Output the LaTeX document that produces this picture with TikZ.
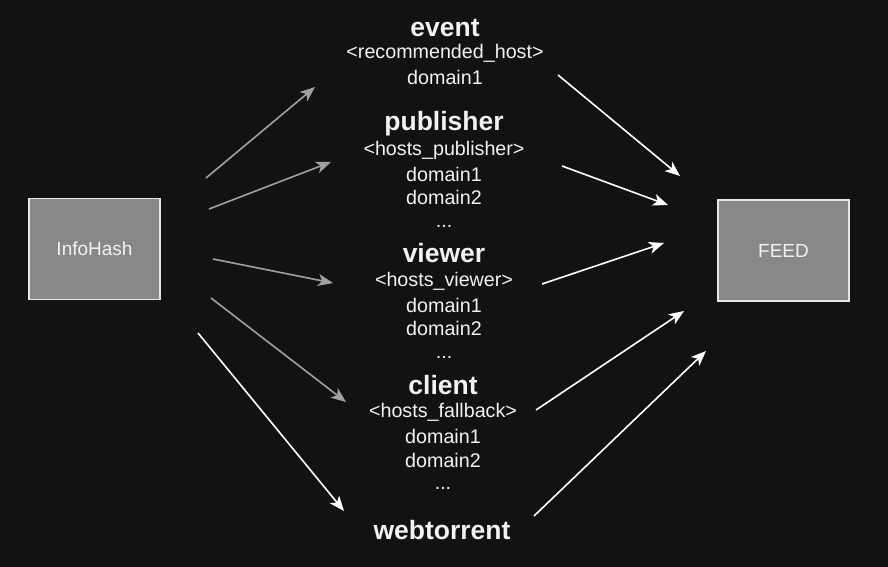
\documentclass[tikz,border=0pt]{standalone}
\usepackage{fontspec}
\setmainfont{Liberation Sans}
\usepackage{tikz}
\usetikzlibrary{arrows.meta}
\definecolor{bgcolor}{HTML}{121212}
\definecolor{boxcolor}{HTML}{888888}
\definecolor{edgecolor}{HTML}{E6E6E6}
\definecolor{greyline}{HTML}{A0A0A0}
\definecolor{textcolor}{HTML}{F2F2F2}

\begin{document}
\begin{tikzpicture}[
    x=1pt, y=-1pt,
    box/.style={rectangle, draw=edgecolor, line width=1.5pt, fill=boxcolor,
                minimum width=131pt, minimum height=101pt,
                text=textcolor, font=\fontsize{19}{22}\selectfont},
    title/.style={text=textcolor, inner sep=1pt,
                  font=\fontsize{26.5}{28}\selectfont\bfseries},
    line/.style={text=textcolor, inner sep=1pt,
                 font=\fontsize{19.7}{22}\selectfont},
    greyarrow/.style={draw=greyline, line width=1.6pt,
                      -{Stealth[length=15pt, width=12pt, inset=4pt]}},
    whitearrow/.style={draw=white, line width=1.6pt,
                       -{Stealth[length=15pt, width=12pt, inset=4pt]}}
]
\fill[bgcolor] (0,0) rectangle (888,567);
\useasboundingbox (0,0) rectangle (888,567);

\node[box] (infohash) at (94.5,249) {InfoHash};
\node[box] (feed) at (783.5,250.5) {FEED};

% event
\node[title] (event) at (445,28) {event};
\node[line] (event-host) at (445,53) {<recommended\_host>};
\node[line] (event-d1) at (445,77) {domain1};

% publisher
\node[title] (publisher) at (444,124) {publisher};
\node[line] (publisher-host) at (444,150) {<hosts\_publisher>};
\node[line] (publisher-d1) at (444,174) {domain1};
\node[line] (publisher-d2) at (444,197) {domain2};
\node[line] (publisher-more) at (444,226) {...};

% viewer
\node[title] (viewer) at (444,253) {viewer};
\node[line] (viewer-host) at (444,281) {<hosts\_viewer>};
\node[line] (viewer-d1) at (444,305) {domain1};
\node[line] (viewer-d2) at (444,328) {domain2};
\node[line] (viewer-more) at (444,357) {...};

% client
\node[title] (client) at (443,385) {client};
\node[line] (client-host) at (443,412) {<hosts\_fallback>};
\node[line] (client-d1) at (443,436) {domain1};
\node[line] (client-d2) at (443,460) {domain2};
\node[line] (client-more) at (443,488) {...};

% webtorrent
\node[title] (webtorrent) at (442,530) {webtorrent};

% arrow ends
\coordinate (to-event-a) at (206,178);
\coordinate (to-event-b) at (315,87);
\coordinate (to-publisher-a) at (209,209);
\coordinate (to-publisher-b) at (331,162);
\coordinate (to-viewer-a) at (213,259);
\coordinate (to-viewer-b) at (333,283);
\coordinate (to-client-a) at (211,298);
\coordinate (to-client-b) at (346,402);
\coordinate (to-webtorrent-a) at (198,333);
\coordinate (to-webtorrent-b) at (344,511);
\coordinate (from-event-a) at (558,75);
\coordinate (from-event-b) at (680,176);
\coordinate (from-publisher-a) at (562,166);
\coordinate (from-publisher-b) at (668,205);
\coordinate (from-viewer-a) at (542,284);
\coordinate (from-viewer-b) at (664,243);
\coordinate (from-client-a) at (536,410);
\coordinate (from-client-b) at (684,311);
\coordinate (from-webtorrent-a) at (534,516);
\coordinate (from-webtorrent-b) at (706,351);

\draw[greyarrow] (to-event-a) -- (to-event-b);
\draw[greyarrow] (to-publisher-a) -- (to-publisher-b);
\draw[greyarrow] (to-viewer-a) -- (to-viewer-b);
\draw[greyarrow] (to-client-a) -- (to-client-b);
\draw[whitearrow] (to-webtorrent-a) -- (to-webtorrent-b);

\draw[whitearrow] (from-event-a) -- (from-event-b);
\draw[whitearrow] (from-publisher-a) -- (from-publisher-b);
\draw[whitearrow] (from-viewer-a) -- (from-viewer-b);
\draw[whitearrow] (from-client-a) -- (from-client-b);
\draw[whitearrow] (from-webtorrent-a) -- (from-webtorrent-b);
\end{tikzpicture}
\end{document}
